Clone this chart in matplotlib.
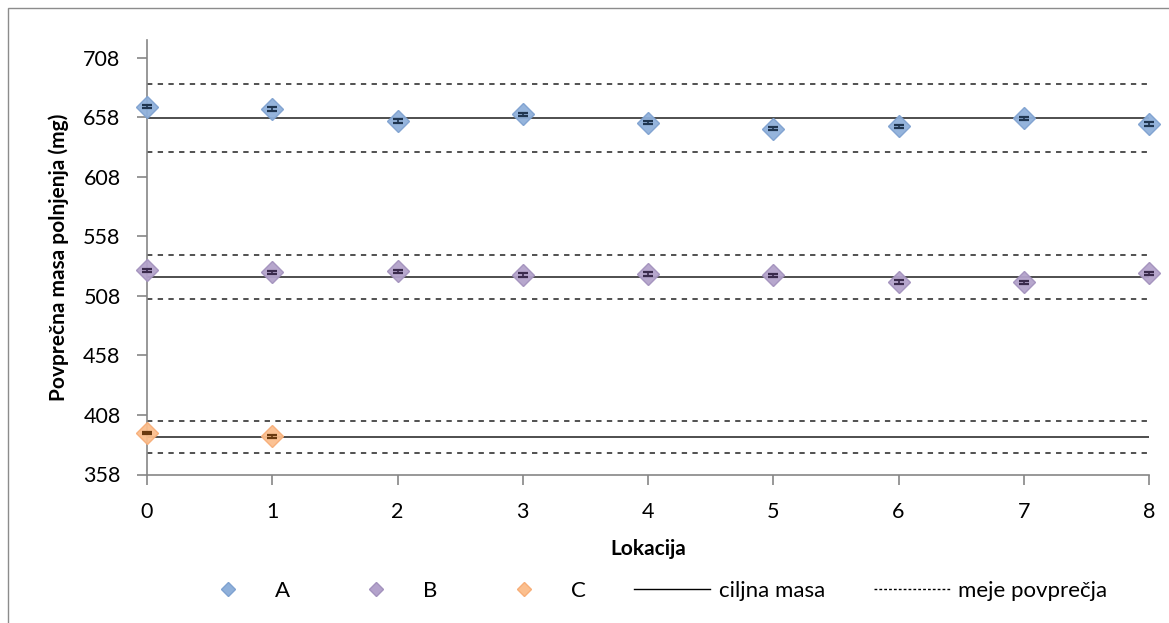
import matplotlib
matplotlib.use("Agg")
import matplotlib.pyplot as plt
from matplotlib.lines import Line2D
from matplotlib.patches import Rectangle
import numpy as np

plt.rcParams['font.family'] = ['Lato', 'DejaVu Sans']

locations = [0, 1, 2, 3, 4, 5, 6, 7, 8]
a_values = [666.7, 664.8, 654.9, 660.3, 653.3, 648.2, 650.2, 657.0, 652.2]
b_values = [529.3, 527.6, 528.5, 525.4, 526.2, 525.1, 519.5, 519.2, 526.8]
c_locations = [0, 1]
c_values = [393.0, 389.9]
a_err = [1.2, 1.5, 1.5, 1.5, 1.5, 1.3, 1.5, 1.3, 1.3]
b_err = [1.2, 1.5, 1.3, 1.5, 1.5, 1.3, 1.5, 1.5, 1.0]
c_err = [1.0, 1.5]

targets = {"A": 657.5, "B": 523.9, "C": 389.4}
upper_limits = {"A": 685.8, "B": 542.4, "C": 402.6}
lower_limits = {"A": 628.7, "B": 505.5, "C": 375.7}

yticks = [358, 408, 458, 508, 558, 608, 658, 708]
xticks = [0, 1, 2, 3, 4, 5, 6, 7, 8]

colors = {"A": "#8FB0DA", "B": "#B3A2CB", "C": "#FBBF8E"}
edge = {"A": "#7FA2D0", "B": "#A392BD", "C": "#F7AE78"}
errc = {"A": "#1F3550", "B": "#3A2A4C", "C": "#6A3A10"}

fig = plt.figure(figsize=(11.69, 6.23), dpi=100)
fig.patches.append(Rectangle((8/1169, -0.1), 1.2, (623 - 8)/623 + 0.1, transform=fig.transFigure,
                             fill=False, edgecolor="#8C8C8C", linewidth=1.0))

ax = fig.add_axes([147/1169, (623 - 474.5)/623, (1149 - 147)/1169, (474.5 - 40)/623])
ax.set_xlim(0, 8)
ax.set_ylim(358, 722.7)

# reference lines
for key in ["A", "B", "C"]:
    ax.axhline(targets[key], color="#404040", lw=1.3, zorder=2)
    ax.axhline(upper_limits[key], color="#222222", lw=1.1, ls=(0, (3.5, 3.5)), zorder=2)
    ax.axhline(lower_limits[key], color="#222222", lw=1.1, ls=(0, (3.5, 3.5)), zorder=2)

for key, xs, ys, es in [("A", locations, a_values, a_err),
                        ("B", locations, b_values, b_err),
                        ("C", c_locations, c_values, c_err)]:
    ax.plot(xs, ys, ls="none", marker="D", markersize=11, markerfacecolor=colors[key],
            markeredgecolor=edge[key], markeredgewidth=1.0, alpha=0.95, zorder=4, clip_on=False)
    ax.errorbar(xs, ys, yerr=es, fmt="none", ecolor=errc[key], elinewidth=1.2,
                capsize=3.5, capthick=1.6, zorder=5, clip_on=False)

ax.set_xticks(xticks)
ax.set_yticks(yticks)
ax.tick_params(axis="both", colors="#868686", labelcolor="black", labelsize=15.5, length=7, width=1.2)
ax.tick_params(axis="x", pad=13)
ax.tick_params(axis="y", pad=12)
for s in ["top", "right"]:
    ax.spines[s].set_visible(False)
for s in ["left", "bottom"]:
    ax.spines[s].set_color("#868686")
    ax.spines[s].set_linewidth(1.2)

ax.set_xlabel("Lokacija", fontsize=15, fontweight="bold", labelpad=12)
ax.set_ylabel("Povprečna masa polnjenja (mg)", fontsize=15, fontweight="bold", labelpad=10)

handles = [
    Line2D([], [], ls="none", marker="D", markersize=7.5, markerfacecolor=colors["A"], markeredgecolor=edge["A"]),
    Line2D([], [], ls="none", marker="D", markersize=7.5, markerfacecolor=colors["B"], markeredgecolor=edge["B"]),
    Line2D([], [], ls="none", marker="D", markersize=7.5, markerfacecolor=colors["C"], markeredgecolor=edge["C"]),
    Line2D([], [], color="black", lw=1.0),
    Line2D([], [], color="black", lw=1.0, ls=(0, (2, 1.5))),
]
labels = ["A", "B", "C", "ciljna masa", "meje povprečja"]
fig.legend(handles, labels, loc="center", bbox_to_anchor=(0.555, (623 - 591)/623), ncol=5,
           frameon=False, fontsize=16, handlelength=3.4, columnspacing=2.2, handletextpad=0.4)

fig.savefig("out.png", dpi=100)
